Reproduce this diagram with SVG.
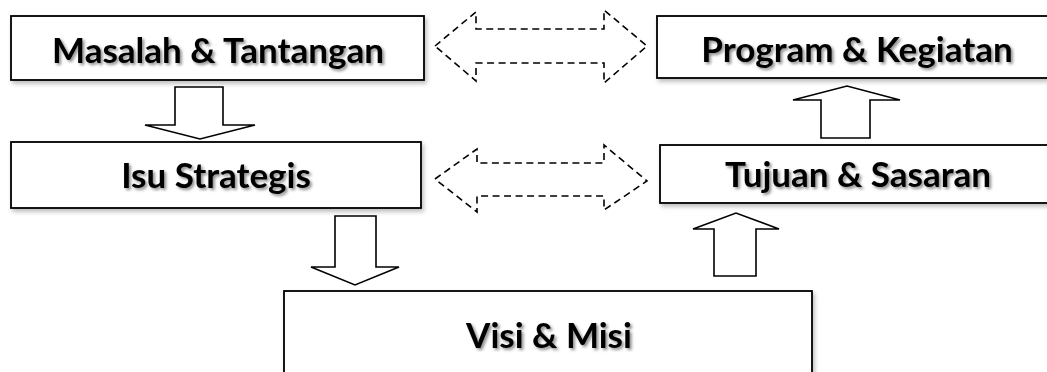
<svg xmlns="http://www.w3.org/2000/svg" width="1047" height="372" viewBox="0 0 1047 372">
  <defs>
    <filter id="boxShadow" x="-10%" y="-20%" width="130%" height="160%">
      <feDropShadow dx="2" dy="3" stdDeviation="2" flood-color="#000" flood-opacity="0.25"/>
    </filter>
    <filter id="textShadow" x="-10%" y="-30%" width="130%" height="180%">
      <feDropShadow dx="2" dy="2" stdDeviation="1.5" flood-color="#000" flood-opacity="0.45"/>
    </filter>
    <style>
      .box { fill: #ffffff; stroke: #000000; stroke-width: 1.8; }
      .label { font-family: Lato, "Liberation Sans", sans-serif; font-weight: bold; font-size: 35px; fill: #000000; text-anchor: middle; }
      .block { fill: #ffffff; stroke: #000000; stroke-width: 1.6; stroke-linejoin: miter; }
      .dashed { fill: none; stroke: #000000; stroke-width: 1.6; stroke-dasharray: 7 4.5; }
    </style>
  </defs>
  <rect width="1047" height="372" fill="#ffffff"/>

  <g id="node-masalah">
    <rect class="box" x="11" y="16" width="413" height="64" filter="url(#boxShadow)"/>
    <text class="label" x="218" y="63" filter="url(#textShadow)">Masalah &amp; Tantangan</text>
  </g>
  <g id="node-program">
    <rect class="box" x="657" y="16" width="400" height="62" filter="url(#boxShadow)"/>
    <text class="label" x="857" y="62" filter="url(#textShadow)">Program &amp; Kegiatan</text>
  </g>
  <g id="node-isu">
    <rect class="box" x="11" y="142" width="410" height="66" filter="url(#boxShadow)"/>
    <text class="label" x="216" y="188" filter="url(#textShadow)">Isu Strategis</text>
  </g>
  <g id="node-tujuan">
    <rect class="box" x="660" y="145" width="400" height="58" filter="url(#boxShadow)"/>
    <text class="label" x="858" y="187" filter="url(#textShadow)">Tujuan &amp; Sasaran</text>
  </g>
  <g id="node-visi">
    <rect class="box" x="284" y="291" width="528" height="100" filter="url(#boxShadow)"/>
    <text class="label" x="549" y="348" filter="url(#textShadow)">Visi &amp; Misi</text>
  </g>

  <g id="connectors">
    <polygon class="block" points="175,87 223,87 223,125 255,125 200,139 145,125 175,125"/>
    <polygon class="block" points="335,216 376,216 376,267 399,267 355,285 311,267 335,267"/>
    <polygon class="block" points="714,276 756,276 756,229 779,229 736,213 693,229 714,229"/>
    <polygon class="block" points="821,138 870,138 870,100 900,100 847,86 793,100 821,100"/>
    <polygon class="dashed" points="435,46 476,12 476,29 604,29 604,10 647,46 604,83 604,63 476,63 476,81"/>
    <polygon class="dashed" points="435,179 477,149 477,163 604,163 604,145 647,181 604,210 604,196 477,196 477,212"/>
  </g>
</svg>
